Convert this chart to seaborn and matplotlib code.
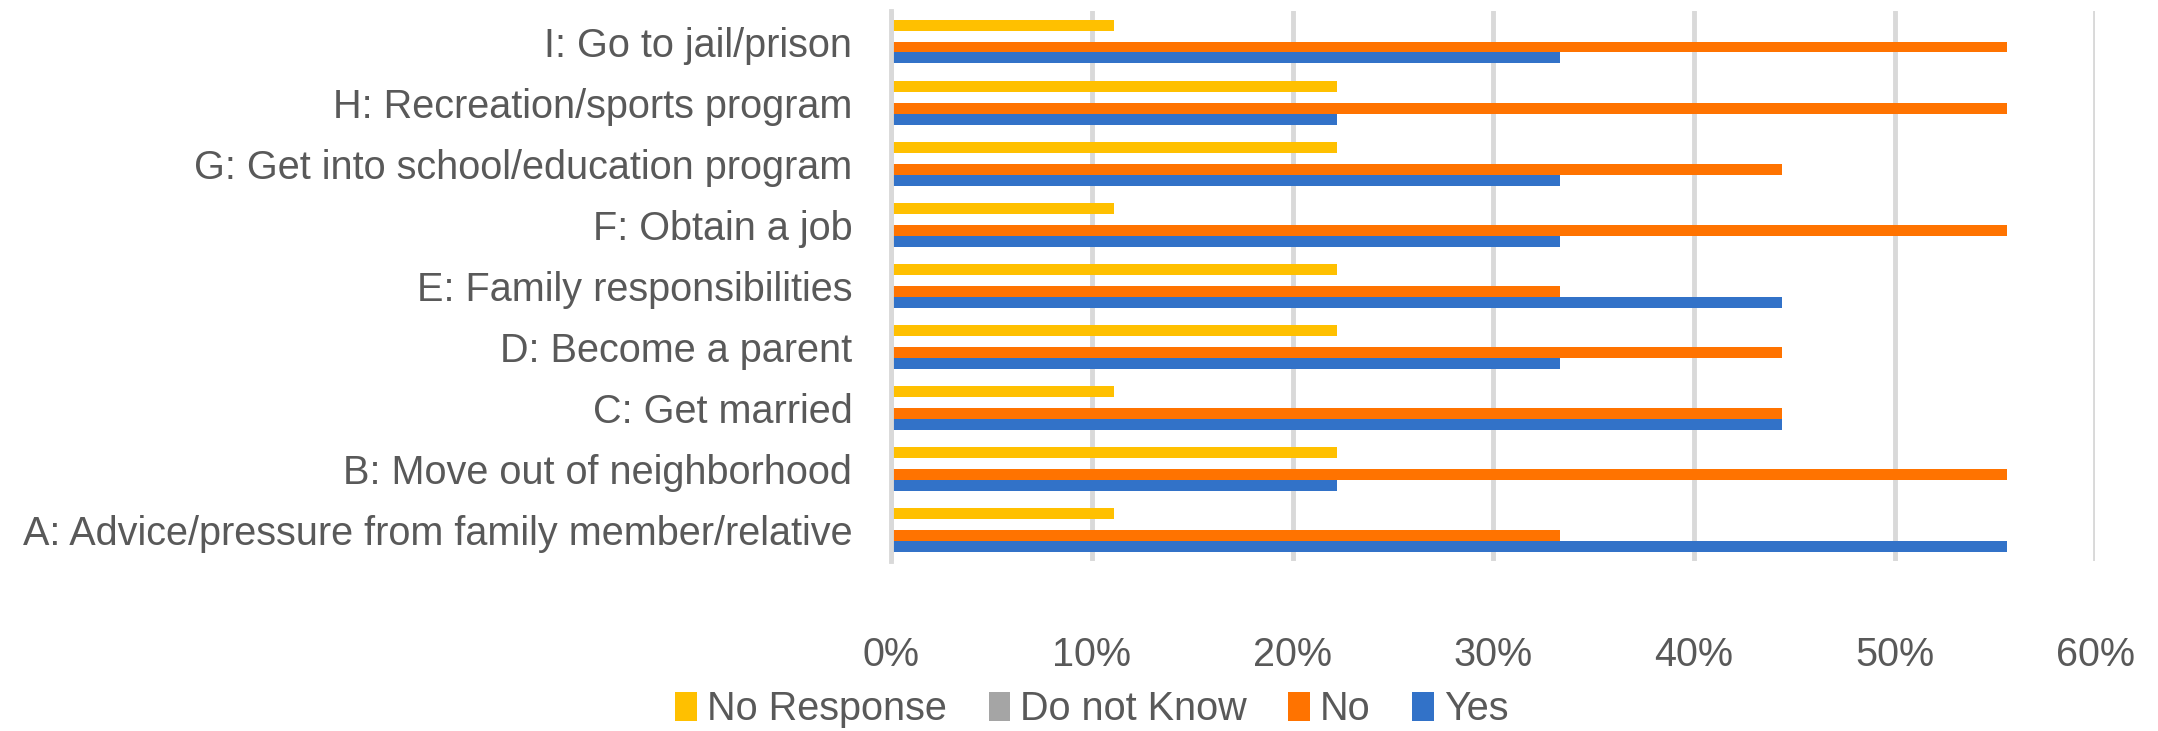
import matplotlib
matplotlib.use("Agg")
import matplotlib.pyplot as plt
from matplotlib.ticker import FuncFormatter
from matplotlib.patches import Patch
import pandas as pd
import seaborn as sns

# Reasons, listed top to bottom
categories = [
    "I: Go to jail/prison",
    "H: Recreation/sports program",
    "G: Get into school/education program",
    "F: Obtain a job",
    "E: Family responsibilities",
    "D: Become a parent",
    "C: Get married",
    "B: Move out of neighborhood",
    "A: Advice/pressure from family member/relative",
]

series_names = ["No Response", "Do not Know", "No", "Yes"]

# Percent of respondents per answer
no_response = [11.1, 22.2, 22.2, 11.1, 22.2, 22.2, 11.1, 22.2, 11.1]
do_not_know = [0, 0, 0, 0, 0, 0, 0, 0, 0]
no_values = [55.6, 55.6, 44.4, 55.6, 33.3, 44.4, 44.4, 55.6, 33.3]
yes_values = [33.3, 22.2, 33.3, 33.3, 44.4, 33.3, 44.4, 22.2, 55.6]

x_ticks = [0, 10, 20, 30, 40, 50, 60]

colors = {
    "No Response": "#FFC000",
    "Do not Know": "#A5A5A5",
    "No": "#FF7300",
    "Yes": "#3272C8",
}

rows = []
for name, vals in zip(series_names, [no_response, do_not_know, no_values, yes_values]):
    for cat, v in zip(categories, vals):
        rows.append({"category": cat, "answer": name, "pct": v})
df = pd.DataFrame(rows)

sns.set_theme(style="white")
plt.rcParams["font.family"] = ["Liberation Sans Narrow", "Liberation Sans", "DejaVu Sans"]
text_color = "#595959"
fs = 28.5

fig = plt.figure(figsize=(21.58, 7.31), dpi=100)
ax = fig.add_axes([0.413, 0.233, 0.558, 0.752])

sns.barplot(
    data=df, y="category", x="pct", hue="answer",
    order=categories, hue_order=series_names, palette=colors,
    orient="h", width=0.72, dodge=True, legend=False, ax=ax,
    saturation=1.0, linewidth=0,
)

ax.set_xlim(0, 60)
ax.set_ylim(len(categories) - 0.5, -0.5)
ax.set_xticks(x_ticks)
ax.xaxis.set_major_formatter(FuncFormatter(lambda v, p: f"{v:.0f}%"))
ax.grid(axis="x", color="#D9D9D9", linewidth=3.5)
ax.grid(axis="y", visible=False)
ax.set_axisbelow(True)
for s in ["top", "right", "bottom"]:
    ax.spines[s].set_visible(False)
ax.spines["left"].set_color("#D9D9D9")
ax.spines["left"].set_linewidth(3.5)
ax.set_xlabel("")
ax.set_ylabel("")
ax.tick_params(axis="x", length=0, pad=54, labelsize=fs, labelcolor=text_color)
ax.tick_params(axis="y", length=0, pad=28, labelsize=fs, labelcolor=text_color)

handles = [Patch(facecolor=colors[n], edgecolor="none") for n in series_names]
fig.legend(
    handles, series_names, loc="center", bbox_to_anchor=(0.506, 0.03),
    ncol=4, frameon=False, fontsize=fs, labelcolor=text_color,
    handlelength=0.55, handleheight=0.75, handletextpad=0.25, columnspacing=1.05,
)

fig.savefig("out.png", dpi=100)
